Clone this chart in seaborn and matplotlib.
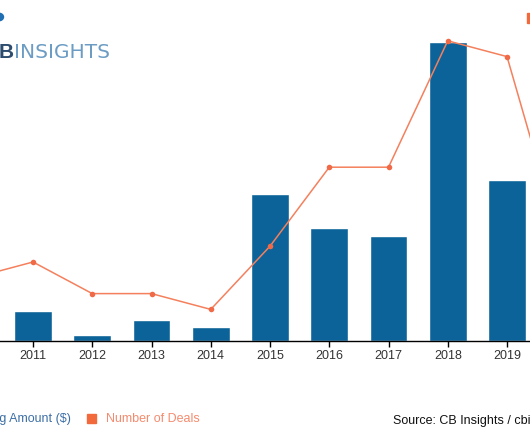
import matplotlib
matplotlib.use("Agg")
import matplotlib.pyplot as plt
import numpy as np
import seaborn as sns
from matplotlib.patches import Rectangle, Circle

# data (2010 and 2020 sit mostly outside the crop)
years = [2010, 2011, 2012, 2013, 2014, 2015, 2016, 2017, 2018, 2019, 2020]
funding_musd = [160, 123, 25, 86, 57, 603, 464, 431, 1228, 661, 300]
deals = [4, 5, 3, 3, 2, 6, 11, 11, 19, 18, 5]

BAR_BLUE = "#0b6399"
LINE_ORANGE = "#f4805d"
SQUARE_ORANGE = "#f26a3b"

W, H = 530, 442
sns.set_theme(style="white")
plt.rcParams["font.family"] = ["Liberation Sans", "DejaVu Sans"]

fig = plt.figure(figsize=(W / 100, H / 100), dpi=100)
ax = fig.add_axes([0, 101 / H, 1, 341 / H])

sns.barplot(x=years, y=funding_musd, color=BAR_BLUE, width=0.64,
            saturation=1, ax=ax)

ax2 = ax.twinx()
sns.lineplot(x=np.arange(len(years)), y=deals, color=LINE_ORANGE, lw=1.1,
             marker="o", markersize=4, markeredgewidth=0,
             markerfacecolor="#f06a47", ax=ax2)

ax.set_ylim(0, 1400)
ax2.set_ylim(0, 341 / 15.8)
ax.set_xlim(0.443, 9.388)

for a in (ax, ax2):
    for s in ("top", "left", "right"):
        a.spines[s].set_visible(False)
    a.set_yticks([])
    a.set_ylabel("")
ax2.spines["bottom"].set_visible(False)
ax.spines["bottom"].set_color("black")
ax.spines["bottom"].set_linewidth(1)
ax.tick_params(axis="x", bottom=True, length=4, width=1, color="black",
               pad=2.5, labelsize=9, labelcolor="#333333")
ax.set_xlabel("")


def fx(px):
    return px / W


def fy(py):
    return 1 - py / H


# logo
fig.text(fx(13.5), fy(58), "B", fontsize=15, fontweight="bold", color="#2e4d6e",
         ha="right", va="baseline")
fig.text(fx(14), fy(58), "INSIGHTS", fontsize=14.5, color="#6c9cc4",
         family="DejaVu Sans", va="baseline")

# bits of the title / top legend cut by the crop
fig.patches.append(Circle((fx(-1), fy(17)), 4.5 / W, color="#1f6fb2",
                          transform=fig.transFigure))
fig.patches.append(Rectangle((fx(527), fy(23)), 10 / W, 10 / H,
                             color=SQUARE_ORANGE, transform=fig.transFigure))

# bottom legend and source
fig.text(fx(71), fy(419), "Funding Amount ($)", fontsize=9, color="#3d6fa5",
         ha="right", va="center")
fig.patches.append(Rectangle((fx(87), fy(423)), 9 / W, 9 / H,
                             color=SQUARE_ORANGE, transform=fig.transFigure))
fig.text(fx(106), fy(419), "Number of Deals", fontsize=9, color="#f58b6e",
         ha="left", va="center")
fig.text(fx(393), fy(421), "Source: CB Insights / cbinsights.com", fontsize=9,
         color="#111111", ha="left", va="center")

fig.savefig("out.png", dpi=100)
